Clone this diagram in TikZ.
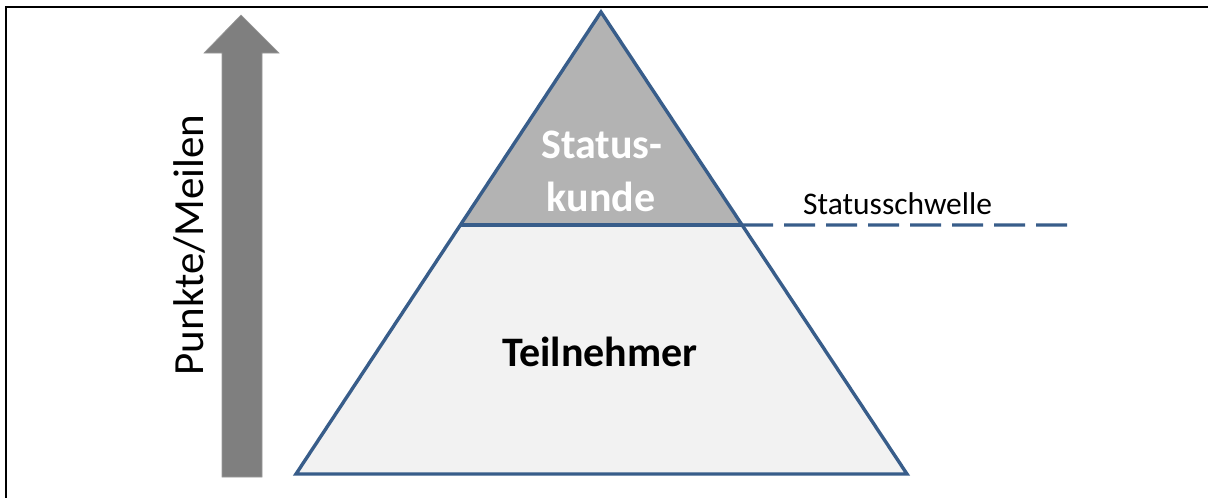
\documentclass[tikz,border=0pt]{standalone}
\usepackage{fontspec}
\setmainfont{Carlito}
\usetikzlibrary{calc}
\definecolor{pyrblue}{RGB}{56,93,138}
\definecolor{topgray}{RGB}{179,179,179}
\definecolor{botgray}{RGB}{242,242,242}
\definecolor{arrgray}{RGB}{127,127,127}
\begin{document}
\begin{tikzpicture}[x=1pt,y=-1pt,
  frame/.style={line width=2.8pt,black},
  pyrline/.style={line width=3.4pt,pyrblue,line join=miter},
  boldlbl/.style={font=\fontsize{42}{54}\selectfont\bfseries,align=center,inner sep=0pt},
  smalllbl/.style={font=\fontsize{31.5}{36}\selectfont,inner sep=0pt}]
\useasboundingbox[fill=white] (0,0) rectangle (1208,498);
% frame (top and left only)
\draw[frame] (1208,7) -- (6,7) -- (6,498);
% gray arrow
\fill[arrgray,draw=arrgray!80!white,line width=0.6pt]
  (222,477) -- (222,53) -- (204,53) -- (241,15) -- (279,53) -- (262,53) -- (262,477) -- cycle;
\node[font=\fontsize{43}{48}\selectfont,rotate=90,anchor=base,inner sep=0pt] (axis) at (203,245) {Punkte/Meilen};
% pyramid
\coordinate (apex) at (601,12);
\coordinate (bl) at (296,474);
\coordinate (br) at (907,474);
\coordinate (sl) at ($(apex)!0.461!(bl)$);
\coordinate (sr) at ($(apex)!0.461!(br)$);
\coordinate (dashend) at (1068,225);
\fill[botgray] (sl) -- (sr) -- (br) -- (bl) -- cycle;
\fill[topgray] (apex) -- (sr) -- (sl) -- cycle;
\draw[pyrline] (sl) -- (sr);
\draw[pyrline] (apex) -- (br) -- (bl) -- cycle;
\draw[pyrline,dash pattern=on 31pt off 11pt] (sr) -- (dashend);
% labels
\node[boldlbl,text=white,anchor=base] (status) at (602,158) {Status-};
\node[boldlbl,text=white,anchor=base] (kunde) at (601,211) {kunde};
\node[boldlbl,anchor=base] (teil) at (600,366) {Teilnehmer};
\node[smalllbl,anchor=base west] (schwelle) at (803,214) {Statusschwelle};
\end{tikzpicture}
\end{document}
